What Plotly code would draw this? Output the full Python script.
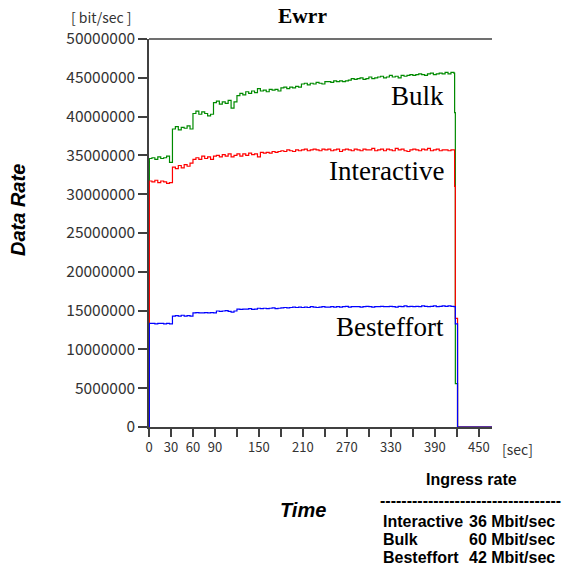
import plotly.graph_objects as go

# ---- data (Mbit/s) ----
times = [0, 0.5,
         4, 8, 12, 16, 20, 24, 28, 32, 36, 40,
         44, 48, 52, 56, 60, 64, 68, 72, 76, 80,
         84, 88, 92, 96, 100, 104, 108, 112, 116, 120,
         124, 128, 132, 136, 140, 144, 148, 152, 156, 160,
         164, 168, 172, 176, 180, 184, 188, 192, 196, 200,
         204, 208, 212, 216, 220, 224, 228, 232, 236, 240,
         244, 248, 252, 256, 260, 264, 268, 272, 276, 280,
         284, 288, 292, 296, 300, 304, 308, 312, 316, 320,
         324, 328, 332, 336, 340, 344, 348, 352, 356, 360,
         364, 368, 372, 376, 380, 384, 388, 392, 396, 400,
         404, 408, 412, 416,
         417, 418, 421, 468]

bulk = [0, 34.6,
        34.7, 34.5, 34.8, 34.6, 34.7, 34.9, 34.1, 38.4, 38.7, 38.3,
        38.6, 38.5, 38.8, 38.4, 40.4, 40.7, 40.3, 40.6, 40.4, 40.1,
        40.3, 41.8, 42.0, 41.6, 41.9, 41.7, 42.1, 41.1, 41.9, 42.7,
        43.0, 42.8, 43.2, 43.0, 43.3, 43.1, 43.6, 43.3, 43.4, 43.2,
        43.5, 43.4, 43.5, 43.3, 43.7, 43.8, 43.6, 43.8, 43.7, 43.9,
        43.8, 44.2, 44.3, 44.1, 44.3, 44.2, 44.4, 44.3, 44.2, 44.5,
        44.5, 44.4, 44.6, 44.5, 44.6, 44.5, 44.6, 44.7, 44.9, 44.8,
        44.9, 45.0, 44.8, 44.9, 45.1, 44.9, 45.0, 45.1, 45.2, 45.0,
        45.1, 45.3, 45.1, 45.2, 45.0, 45.3, 45.2, 45.3, 45.4, 45.3,
        45.4, 45.5, 45.4, 45.3, 45.5, 45.6, 45.4, 45.5, 45.6, 45.5,
        45.7, 45.5, 45.7, 45.6,
        40.5, 5.6, 0, 0]

interactive = [0, 31.7,
               31.6, 31.8, 31.5, 31.7, 31.6, 31.4, 31.5, 33.5, 33.3, 33.7,
               33.4, 33.8, 33.6, 34.0, 34.5, 34.7, 34.5, 34.9, 34.6, 34.8,
               34.5, 34.9, 35.0, 34.8, 35.1, 34.9, 35.2, 34.8, 35.0, 35.2,
               34.9, 35.2, 35.0, 35.3, 35.1, 35.2, 34.8, 35.4, 35.3, 35.4,
               35.3, 35.5, 35.4, 35.5, 35.6, 35.5, 35.7, 35.6, 35.5, 35.7,
               35.6, 35.7, 35.8, 35.6, 35.7, 35.8, 35.7, 35.6, 35.8, 35.7,
               35.8, 35.6, 35.7, 35.8, 35.5, 35.7, 35.8, 35.7, 35.6, 35.8,
               35.7, 35.6, 35.8, 35.7, 35.7, 35.9, 35.6, 35.7, 35.8, 35.6,
               35.8, 35.7, 35.6, 35.9, 35.7, 35.8, 35.6, 35.5, 35.7, 35.8,
               35.7, 35.6, 35.8, 35.7, 35.9, 35.6, 35.7, 35.8, 35.6, 35.7,
               35.7, 35.6, 35.7, 35.7,
               31.0, 14.0, 0, 0]

besteffort = [0, 13.35,
              13.35, 13.3, 13.35, 13.35, 13.3, 13.35, 13.3, 14.3, 14.35, 14.3,
              14.4, 14.3, 14.35, 14.3, 14.7, 14.75, 14.7, 14.7, 14.75, 14.7,
              14.75, 14.7, 14.95, 14.9, 14.95, 15.0, 14.9, 14.8, 14.95, 15.2,
              15.15, 15.2, 15.2, 15.25, 15.15, 15.2, 15.3, 15.25, 15.3, 15.25,
              15.3, 15.35, 15.25, 15.3, 15.35, 15.4, 15.35, 15.4, 15.45, 15.4,
              15.45, 15.4, 15.45, 15.4, 15.5, 15.45, 15.4, 15.45, 15.5, 15.45,
              15.45, 15.5, 15.45, 15.5, 15.45, 15.5, 15.55, 15.45, 15.5, 15.5,
              15.5, 15.45, 15.5, 15.55, 15.5, 15.45, 15.5, 15.5, 15.55, 15.5,
              15.5, 15.55, 15.5, 15.45, 15.55, 15.5, 15.6, 15.5, 15.55, 15.5,
              15.55, 15.5, 15.6, 15.55, 15.5, 15.55, 15.6, 15.5, 15.55, 15.6,
              15.55, 15.6, 15.55, 15.5,
              15.5, 13.3, 0, 0]

x_tickvals = [0, 30, 60, 90, 120, 150, 180, 210, 240, 270, 300, 330, 360, 390, 420, 450]
x_ticktext = ["0", "30", "60", "90", "", "150", "", "210", "", "270", "", "330", "", "390", "", "450"]
y_tickvals = [0, 5000000, 10000000, 15000000, 20000000, 25000000,
              30000000, 35000000, 40000000, 45000000, 50000000]
y_ticktext = [str(v) for v in y_tickvals]

series_names = ["Bulk", "Interactive", "Besteffort"]
ingress = ["60 Mbit/sec", "36 Mbit/sec", "42 Mbit/sec"]

assert len(times) == len(bulk) == len(interactive) == len(besteffort)

# ---- figure ----
L, R, T, B = 149, 72, 39, 147
W, H = 564, 574
PW, PH = W - L - R, H - T - B


def px(x):
    return (x - L) / PW


def py(y):
    return (H - B - y) / PH


fig = go.Figure()
for vals, col in [(bulk, "#008a00"), (interactive, "#ff0000"), (besteffort, "#0000ff")]:
    fig.add_trace(go.Scatter(
        x=times, y=[v * 1e6 for v in vals], mode="lines",
        line=dict(color=col, width=1.2, shape="hv"), showlegend=False,
        hoverinfo="skip"))

axcol = "#404040"
tickfont = dict(family="Noto Sans CJK JP", size=13, color="#333")
fig.update_xaxes(range=[0, 468], tickvals=x_tickvals, ticktext=x_ticktext,
                 showline=True, linecolor=axcol, linewidth=1.5,
                 ticks="outside", ticklen=8, tickwidth=1.5, tickcolor=axcol,
                 showgrid=False, zeroline=False, tickfont=tickfont)
fig.update_yaxes(range=[0, 50000000], tickvals=y_tickvals, ticktext=y_ticktext,
                 showline=True, linecolor=axcol, linewidth=1.5,
                 ticks="outside", ticklen=9, tickwidth=1.5, tickcolor=axcol,
                 showgrid=False, zeroline=False,
                 tickfont=dict(family="Noto Sans CJK JP", size=15.5, color="#333"))

fig.add_shape(type="line", xref="paper", yref="paper", x0=0, x1=1, y0=1, y1=1,
              line=dict(color=axcol, width=1.5))

ann = []
serif = "Liberation Serif"
# series labels inside the plot
for name, ycen in zip(series_names, [96, 171, 327]):
    ann.append(dict(text=name, xref="paper", yref="paper", x=px(446), y=py(ycen),
                    xanchor="right", yanchor="middle", showarrow=False,
                    font=dict(family=serif, size=27, color="#000")))
# title
ann.append(dict(text="<b>Ewrr</b>", xref="paper", yref="paper", x=px(302), y=py(16),
                xanchor="center", yanchor="middle", showarrow=False,
                font=dict(family=serif, size=21.5, color="#000")))
ann.append(dict(text="[ bit/sec ]", xref="paper", yref="paper", x=px(101), y=py(17),
                xanchor="center", yanchor="middle", showarrow=False,
                font=dict(family="Noto Sans CJK JP", size=14, color="#333")))
ann.append(dict(text="[sec]", xref="paper", yref="paper", x=px(500), y=py(449),
                xanchor="left", yanchor="middle", showarrow=False,
                font=dict(family="Noto Sans CJK JP", size=14, color="#333")))
bi = dict(family="Liberation Sans", size=20, color="#000")
ann.append(dict(text="<b><i>Data Rate</i></b>", xref="paper", yref="paper",
                x=px(18), y=py(210), xanchor="center", yanchor="middle",
                textangle=-90, showarrow=False, font=bi))
ann.append(dict(text="<b><i>Time</i></b>", xref="paper", yref="paper",
                x=px(303), y=py(510), xanchor="center", yanchor="middle",
                showarrow=False, font=bi))
# ingress table
tf = dict(family="Liberation Sans", size=16, color="#000")
ann.append(dict(text="<b>Ingress rate</b>", xref="paper", yref="paper",
                x=px(471), y=py(479), xanchor="center", yanchor="middle",
                showarrow=False, font=tf))
ann.append(dict(text="<b>" + "-" * 34 + "</b>", xref="paper", yref="paper",
                x=px(378), y=py(500), xanchor="left", yanchor="middle",
                showarrow=False, font=tf))
rows = [("Interactive", ingress[1], 521), ("Bulk", ingress[0], 539), ("Besteffort", ingress[2], 557)]
for nm, rate, yc in rows:
    ann.append(dict(text="<b>" + nm + "</b>", xref="paper", yref="paper",
                    x=px(381), y=py(yc), xanchor="left", yanchor="middle",
                    showarrow=False, font=tf))
    ann.append(dict(text="<b>" + rate + "</b>", xref="paper", yref="paper",
                    x=px(557), y=py(yc), xanchor="right", yanchor="middle",
                    showarrow=False, font=tf))

fig.update_layout(width=W, height=H, margin=dict(l=L, r=R, t=T, b=B),
                  paper_bgcolor="white", plot_bgcolor="white",
                  annotations=ann)

fig.write_html("out.html")
